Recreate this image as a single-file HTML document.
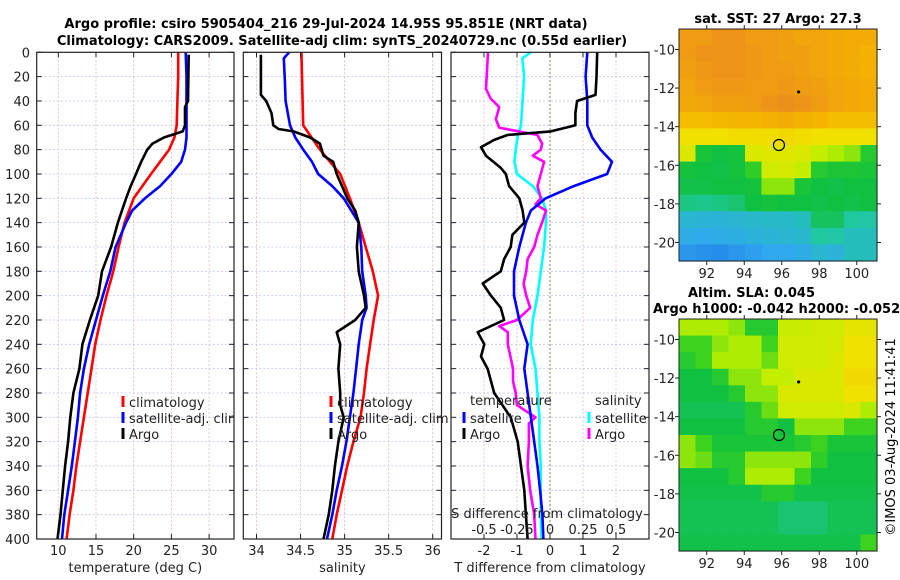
<!DOCTYPE html>
<html><head><meta charset="utf-8"><style>
html,body{margin:0;padding:0;background:#fff;}
svg{display:block;font-family:"DejaVu Sans","Liberation Sans",sans-serif;}
</style></head><body>
<svg id="fig" width="900" height="580" viewBox="0 0 900 580" xmlns="http://www.w3.org/2000/svg">
<text x="326" y="28" font-size="13" font-weight="bold" text-anchor="middle">Argo profile: csiro 5905404_216 29-Jul-2024 14.95S 95.851E (NRT data)</text>
<text x="342" y="45" font-size="13" font-weight="bold" text-anchor="middle">Climatology: CARS2009. Satellite-adj clim: synTS_20240729.nc (0.55d earlier)</text>
<g id="layer"></g>
<text x="778" y="23" font-size="13" font-weight="bold" text-anchor="middle">sat. SST: 27 Argo: 27.3</text>
<text x="688" y="297" font-size="13" font-weight="bold">Altim. SLA: 0.045</text>
<text x="653" y="313" font-size="13" font-weight="bold">Argo h1000: -0.042 h2000: -0.052</text>
<text x="0" y="0" font-size="13" text-anchor="middle" transform="translate(895,437) rotate(-90)">©IMOS 03-Aug-2024 11:41:41</text>
</svg>
<script>
// ---------- data ----------
const tClimDepth=[0,20,40,60,70,80,90,100,120,140,160,180,200,220,240,260,280,300,320,340,360,380,400];
const tClimVal=[25.9,25.9,25.8,25.7,25.4,24.7,23.5,22.3,20,18.8,18,17.3,16.4,15.6,14.9,14.4,13.9,13.4,12.9,12.4,12,11.5,11.1];
const tSatDepth=[0,20,40,60,70,80,90,100,110,120,130,140,160,180,200,220,240,260,280,300,320,340,360,380,400];
const tSatVal=[26.9,27,27,27,27,26.8,26.3,25,23.5,21.5,19.8,19,17.6,16.9,15.9,15,14.1,13.4,12.9,12.6,12.2,11.8,11.3,10.8,10.5];
const tArgoDepth=[2,40,45,60,65,70,75,80,90,100,110,120,140,160,180,200,220,240,260,280,300,320,340,360,380,400];
const tArgoVal=[27.3,27.2,26.8,26.8,26.5,24,22.5,21.8,21,20.3,19.6,19,17.9,17,15.8,15.3,14.2,13.2,12.8,12,11.6,11.3,10.9,10.6,10.3,9.9];

const sClimDepth=[0,60,80,100,120,140,160,180,200,220,240,260,280,300,320,340,360,380,400];
const sClimVal=[34.51,34.53,34.72,34.95,35.06,35.16,35.24,35.32,35.38,35.33,35.29,35.25,35.22,35.18,35.10,35.03,34.97,34.91,34.86];
const sSatDepth=[0,5,20,40,60,70,80,90,100,110,120,140,160,180,200,210,220,240,260,280,300,320,340,360,380,400];
const sSatVal=[34.37,34.31,34.32,34.33,34.38,34.44,34.53,34.63,34.70,34.86,34.99,35.16,35.19,35.2,35.24,35.25,35.2,35.16,35.13,35.1,35.06,35.02,34.97,34.91,34.86,34.8];
const sArgoDepth=[2,20,35,40,50,60,63,65,70,75,80,85,90,100,110,120,130,140,160,180,200,210,220,230,240,260,280,290,300,320,340,360,380,400];
const sArgoVal=[34.05,34.05,34.05,34.11,34.17,34.19,34.25,34.42,34.61,34.72,34.74,34.76,34.87,34.91,34.97,35.03,35.12,35.16,35.14,35.16,35.22,35.24,35.12,34.91,34.95,34.93,34.95,34.95,34.99,34.93,34.89,34.86,34.82,34.76];

const dTArgoDepth=[0,20,35,40,50,60,65,68,72,78,85,95,100,110,120,130,140,150,160,170,180,190,200,210,220,230,240,250,260,270,280,300,320,340,360,380,400];
const dTArgoVal=[1.43,1.41,1.38,0.82,0.77,0.77,0.02,-1.29,-1.69,-2.09,-1.94,-1.49,-1.34,-1.24,-0.93,-0.83,-0.78,-1.14,-1.19,-1.39,-1.49,-2.04,-1.79,-1.49,-1.39,-2.19,-1.99,-2.09,-1.89,-1.79,-1.69,-1.19,-0.98,-0.88,-0.78,-0.73,-0.68];
const dTSatDepth=[0,20,40,60,70,80,90,100,110,120,130,140,160,180,200,220,240,260,280,300,320,340,360,380,400];
const dTSatVal=[1.13,1.08,1.13,1.13,1.28,1.53,1.88,1.73,0.72,-0.13,-0.58,-0.73,-0.93,-1.09,-1.09,-0.93,-0.68,-0.78,-0.68,-0.58,-0.48,-0.38,-0.3,-0.23,-0.2];
const dSArgoDepth=[0,30,38,45,55,62,68,75,80,85,90,100,110,120,125,130,140,150,160,170,180,190,200,210,220,225,230,240,250,260,270,280,290,300,305,320,340,360,380,400];
const dSArgoVal=[-0.47,-0.485,-0.45,-0.385,-0.41,-0.385,-0.095,-0.06,-0.07,-0.13,-0.045,-0.07,-0.095,-0.07,-0.11,-0.03,-0.06,-0.095,-0.12,-0.17,-0.18,-0.2,-0.18,-0.15,-0.25,-0.385,-0.32,-0.32,-0.3,-0.28,-0.28,-0.26,-0.25,-0.11,-0.16,-0.16,-0.17,-0.15,-0.12,-0.11];
const dSSatDepth=[0,5,20,60,70,80,90,100,110,120,130,140,160,180,200,220,240,260,280,300,320,340,360,380,400];
const dSSatVal=[-0.146,-0.21,-0.196,-0.22,-0.246,-0.26,-0.27,-0.25,-0.13,-0.06,-0.03,-0.03,-0.045,-0.07,-0.095,-0.13,-0.146,-0.11,-0.095,-0.08,-0.08,-0.07,-0.07,-0.07,-0.065];

const depthTicks=[0,20,40,60,80,100,120,140,160,180,200,220,240,260,280,300,320,340,360,380,400];
const tTicks=[10,15,20,25,30];
const sTicks=[34,34.5,35,35.5,36];
const dTTicks=[-2,-1,0,1,2];
const dSTicks=[-0.5,-0.25,0,0.25,0.5];
const dSTickLabels=["-0.5","-0.25","0","0.25","0.5"];
const lonTicks=[92,94,96,98,100];
const latTicks=[-10,-12,-14,-16,-18,-20];
const floatLon=95.851, floatLat=-14.95;
const dotLon=96.9, dotLat=-12.2;

// map grids (rows top->bottom lat -9..-21, cols lon 90.5..101.1), normalized colour index
const sstGrid=[
[0.88,0.88,0.9,0.9,0.88,0.88,0.87,0.86,0.86,0.85,0.84,0.84],
[0.88,0.9,0.9,0.9,0.89,0.88,0.87,0.87,0.86,0.85,0.84,0.83],
[0.87,0.89,0.9,0.9,0.89,0.88,0.88,0.87,0.86,0.85,0.84,0.83],
[0.86,0.88,0.89,0.89,0.88,0.88,0.89,0.88,0.87,0.86,0.85,0.84],
[0.85,0.86,0.87,0.87,0.88,0.9,0.91,0.9,0.88,0.86,0.85,0.84],
[0.8,0.8,0.81,0.82,0.82,0.83,0.84,0.83,0.82,0.8,0.8,0.8],
[0.72,0.72,0.72,0.73,0.73,0.73,0.74,0.73,0.72,0.72,0.72,0.72],
[0.68,0.47,0.45,0.46,0.68,0.69,0.69,0.68,0.64,0.62,0.6,0.5],
[0.46,0.45,0.44,0.46,0.52,0.66,0.67,0.64,0.5,0.48,0.48,0.47],
[0.44,0.44,0.45,0.45,0.46,0.6,0.6,0.47,0.45,0.44,0.45,0.45],
[0.38,0.37,0.38,0.4,0.45,0.46,0.45,0.45,0.44,0.45,0.44,0.45],
[0.26,0.25,0.25,0.26,0.27,0.28,0.28,0.3,0.42,0.42,0.35,0.34],
[0.22,0.21,0.22,0.23,0.24,0.25,0.26,0.27,0.35,0.34,0.3,0.3],
[0.16,0.15,0.14,0.16,0.18,0.2,0.2,0.22,0.26,0.24,0.3,0.3]];
const slaGrid=[
[0.62,0.62,0.62,0.6,0.5,0.5,0.65,0.65,0.66,0.66,0.7,0.7],
[0.55,0.55,0.6,0.62,0.62,0.55,0.66,0.66,0.66,0.67,0.72,0.72],
[0.5,0.55,0.62,0.62,0.62,0.58,0.66,0.66,0.66,0.68,0.72,0.72],
[0.45,0.45,0.5,0.6,0.6,0.64,0.64,0.68,0.68,0.68,0.74,0.74],
[0.45,0.45,0.45,0.5,0.6,0.6,0.68,0.68,0.68,0.68,0.72,0.72],
[0.43,0.43,0.43,0.43,0.5,0.58,0.66,0.66,0.66,0.66,0.68,0.62],
[0.45,0.45,0.45,0.45,0.5,0.5,0.45,0.6,0.6,0.6,0.55,0.55],
[0.6,0.55,0.47,0.47,0.47,0.47,0.47,0.5,0.55,0.47,0.47,0.47],
[0.6,0.58,0.5,0.5,0.6,0.6,0.6,0.6,0.52,0.45,0.45,0.45],
[0.45,0.45,0.45,0.5,0.62,0.62,0.62,0.55,0.45,0.45,0.45,0.45],
[0.44,0.44,0.44,0.44,0.44,0.5,0.5,0.44,0.44,0.44,0.44,0.44],
[0.43,0.43,0.43,0.43,0.43,0.43,0.4,0.4,0.4,0.43,0.43,0.43],
[0.43,0.43,0.43,0.43,0.43,0.43,0.4,0.4,0.4,0.43,0.43,0.43],
[0.44,0.44,0.44,0.44,0.44,0.44,0.44,0.44,0.44,0.44,0.44,0.55]];

// ---------- drawing ----------
const NS="http://www.w3.org/2000/svg";
const layer=document.getElementById('layer');
function mk(tag,attrs,parent){const e=document.createElementNS(NS,tag);for(const k in attrs)e.setAttribute(k,attrs[k]);(parent||layer).appendChild(e);return e;}
function txt(x,y,s,size,anchor,parent){const e=mk('text',{x:x,y:y,'font-size':size,'text-anchor':anchor||'middle',fill:'#222'},parent);e.textContent=s;return e;}

const TOP=52.3, BOT=539;
const yD=d=>TOP+(d/400)*(BOT-TOP);

function panel(name,x0,x1,xmin,xmax,ticks,labels,xtitle){
  const xs=v=>x0+(v-xmin)/(xmax-xmin)*(x1-x0);
  const g=mk('g',{});
  
  
  // grid
  depthTicks.forEach(d=>{const l=mk('line',{x1:x0,x2:x1,y1:yD(d),y2:yD(d),stroke:'#b8c4e8','stroke-width':0.8,'stroke-dasharray':'2,2'},g);
    
    });
  ticks.forEach(v=>{const l=mk('line',{x1:xs(v),x2:xs(v),y1:TOP,y2:BOT,stroke:'#e0b8b8','stroke-width':0.8,'stroke-dasharray':'2,2'},g);
    
    });
  return {g,xs};
}
function frame(p,x0,x1,ticks,labels,xtitle,leftLabels){
  const g=p.g,xs=p.xs;
  const r=mk('rect',{x:x0,y:TOP,width:x1-x0,height:BOT-TOP,fill:'none',stroke:'#222','stroke-width':1.2},g);
  
  
  depthTicks.forEach(d=>{mk('line',{x1:x0,x2:x0+5,y1:yD(d),y2:yD(d),stroke:'#222'},g);mk('line',{x1:x1,x2:x1-5,y1:yD(d),y2:yD(d),stroke:'#222'},g);
    if(leftLabels){const t=txt(30,yD(d)+5,String(d),13,'end',g);
      
      }});
  ticks.forEach((v,i)=>{mk('line',{x1:xs(v),x2:xs(v),y1:BOT,y2:BOT-5,stroke:'#222'},g);mk('line',{x1:xs(v),x2:xs(v),y1:TOP,y2:TOP+5,stroke:'#222'},g);
    const t=txt(xs(v),555,labels[i],13,'middle',g);
    
    });
  const t=txt((x0+x1)/2,572,xtitle,13,'middle',g);
  
  
}
function series(p,xsFn,depths,vals,color,name){
  const pts=depths.map((d,i)=>xsFn(vals[i]).toFixed(1)+','+yD(d).toFixed(1)).join(' ');
  const l=mk('polyline',{points:pts,fill:'none',stroke:color,'stroke-width':2.6,'stroke-linejoin':'round'},p.g);
  
  
}
function legend(p,x,y,color,label,clipId){
  const g=mk('g',clipId?{'clip-path':'url(#'+clipId+')'}:{},p.g);
  
  
  mk('line',{x1:x,x2:x,y1:y-6,y2:y+5,stroke:color,'stroke-width':3},g);
  txt(x+6,y+5,label,13,'start',g);
}
const defs=mk('defs',{});
const c1=mk('clipPath',{id:'clip1'},defs);mk('rect',{x:36,y:0,width:198,height:580},c1);
const c2=mk('clipPath',{id:'clip2'},defs);mk('rect',{x:243,y:0,width:205,height:580},c2);

// Panel 1: temperature
const p1=panel('temperature-panel',36.7,234,7.14,33.3,tTicks);
series(p1,p1.xs,tClimDepth,tClimVal,'#ff0000','temp-climatology-line');
series(p1,p1.xs,tSatDepth,tSatVal,'#0000ff','temp-satellite-line');
series(p1,p1.xs,tArgoDepth,tArgoVal,'#000000','temp-argo-line');
frame(p1,36.7,234,tTicks,tTicks.map(String),'temperature (deg C)',true);
legend(p1,123,402,'#ff0000','climatology','clip1');
legend(p1,123,418,'#0000ff','satellite-adj. clim','clip1');
legend(p1,123,434,'#000000','Argo','clip1');

// Panel 2: salinity
const p2=panel('salinity-panel',243.3,441.5,33.85,36.1,sTicks);
series(p2,p2.xs,sClimDepth,sClimVal,'#ff0000','sal-climatology-line');
series(p2,p2.xs,sSatDepth,sSatVal,'#0000ff','sal-satellite-line');
series(p2,p2.xs,sArgoDepth,sArgoVal,'#000000','sal-argo-line');
frame(p2,243.3,441.5,sTicks,sTicks.map(String),'salinity',false);
legend(p2,331,402,'#ff0000','climatology','clip2');
legend(p2,331,418,'#0000ff','satellite-adj. clim','clip2');
legend(p2,331,434,'#000000','Argo','clip2');

// Panel 3: differences
const p3=panel('difference-panel',451,649,-3,3,dTTicks);
const xsS=v=>p3.xs(v*4);
const z=mk('line',{x1:p3.xs(0),x2:p3.xs(0),y1:TOP,y2:BOT,stroke:'#556b2f','stroke-width':1,'stroke-dasharray':'1.5,2.5'},p3.g);


series(p3,xsS,dSSatDepth,dSSatVal,'#00ffff','sal-diff-satellite-line');
series(p3,xsS,dSArgoDepth,dSArgoVal,'#ff00ff','sal-diff-argo-line');
series(p3,p3.xs,dTSatDepth,dTSatVal,'#0000ff','temp-diff-satellite-line');
series(p3,p3.xs,dTArgoDepth,dTArgoVal,'#000000','temp-diff-argo-line');
frame(p3,451,649,dTTicks,dTTicks.map(String),'T difference from climatology',false);
{const t=txt(470,405,'temperature',13,'start',p3.g);}
{const t=txt(595,405,'salinity',13,'start',p3.g);}
legend(p3,464,418,'#0000ff','satellite');
legend(p3,464,434,'#000000','Argo');
legend(p3,589,418,'#00ffff','satellite');
legend(p3,589,434,'#ff00ff','Argo');
{const t=txt(547,518,'S difference from climatology',13,'middle',p3.g);}
dSTicks.forEach((v,i)=>{const t=txt(xsS(v),534,dSTickLabels[i],13,'middle',p3.g);
  
  });

// colour map
const stops=[[0,[16,80,220]],[0.2,[48,168,240]],[0.35,[32,200,160]],[0.45,[16,192,64]],[0.55,[60,210,30]],[0.63,[190,240,0]],[0.72,[240,225,0]],[0.82,[245,180,0]],[0.92,[235,140,30]],[1,[210,100,20]]];
function cmap(v){for(let i=1;i<stops.length;i++){if(v<=stops[i][0]){const a=stops[i-1],b=stops[i],t=(v-a[0])/(b[0]-a[0]);
  const c=a[1].map((x,k)=>Math.round(x+(b[1][k]-x)*t));return 'rgb('+c.join(',')+')';}}return 'rgb(210,100,20)';}

function map(name,x0,x1,y0,y1,grid,lonMin,lonMax,latTop,latBot){
  const g=mk('g',{});
  
  
  const xl=l=>x0+(l-lonMin)/(lonMax-lonMin)*(x1-x0);
  const yl=l=>y0+(latTop-l)/(latTop-latBot)*(y1-y0);
  const rows=grid.length,cols=grid[0].length,cw=(x1-x0)/cols,ch=(y1-y0)/rows;
  grid.forEach((row,r)=>row.forEach((v,c)=>{const e=mk('rect',{x:x0+c*cw,y:y0+r*ch,width:cw+0.6,height:ch+0.6,fill:cmap(v)},g);
    
    }));
  const f=mk('rect',{x:x0,y:y0,width:x1-x0,height:y1-y0,fill:'none',stroke:'#222','stroke-width':1},g);
  
  
  lonTicks.forEach(l=>{mk('line',{x1:xl(l),x2:xl(l),y1:y1,y2:y1+4,stroke:'#222'},g);mk('line',{x1:xl(l),x2:xl(l),y1:y0,y2:y0-4,stroke:'#222'},g);
    const t=txt(xl(l),y1+17,String(l),13,'middle',g);
    
    });
  latTicks.forEach(l=>{mk('line',{x1:x0,x2:x0-4,y1:yl(l),y2:yl(l),stroke:'#222'},g);mk('line',{x1:x1,x2:x1+4,y1:yl(l),y2:yl(l),stroke:'#222'},g);
    const t=txt(x0-4,yl(l)+5,String(l),13,'end',g);
    
    });
  const c=mk('circle',{cx:xl(floatLon),cy:yl(floatLat),r:5.5,fill:'none',stroke:'#000','stroke-width':1.2},g);
  
  
  const d=mk('circle',{cx:xl(dotLon),cy:yl(dotLat),r:1.6,fill:'#000'},g);
  
  
}
map('sst-map',679,877,29,261,sstGrid,90.52,101.08,-8.94,-20.96);
map('sla-map',679,877,319,551,slaGrid,90.52,101.08,-8.94,-20.96);
</script>
</body></html>
